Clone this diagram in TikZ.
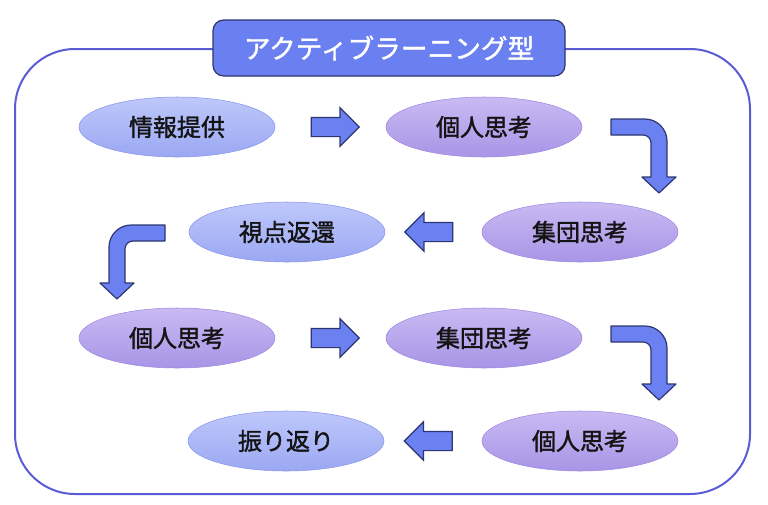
\documentclass[tikz,border=0pt]{standalone}
\usepackage{fontspec}
\newfontfamily\jpfont[FakeBold=1.5]{Noto Sans CJK JP}
\usetikzlibrary{shapes.geometric, shapes.arrows, positioning, calc}
\definecolor{framecol}{HTML}{5B5BD6}
\definecolor{arrowfill}{HTML}{6B81F2}
\definecolor{arrowline}{HTML}{2E3672}
\definecolor{titlefill}{HTML}{6A7FF0}
\definecolor{bluetop}{HTML}{BEC8FB}
\definecolor{bluebot}{HTML}{9BA8F2}
\definecolor{blueline}{HTML}{8895EC}
\definecolor{purptop}{HTML}{C9BAF3}
\definecolor{purpbot}{HTML}{A895E6}
\definecolor{purpline}{HTML}{9D88E2}
\tikzstyle{stage} = [ellipse, minimum width=147pt, minimum height=45pt, inner sep=0pt, text=black!92, font=\jpfont\fontsize{18pt}{18pt}\selectfont]
\tikzstyle{given} = [stage, draw=blueline, top color=bluetop, bottom color=bluebot]
\tikzstyle{think} = [stage, draw=purpline, top color=purptop, bottom color=purpbot]
\tikzstyle{flow} = [single arrow, draw=arrowline, fill=arrowfill, line width=0.9pt, minimum height=36pt, single arrow head extend=7.25pt, inner xsep=0pt, inner ysep=6.75pt]
\tikzstyle{turnbody} = [draw=arrowline, fill=arrowfill, line width=0.9pt, line join=round]
\tikzset{turnarrow/.pic={
  \draw[turnbody] (0,0) -- (34,0) .. controls (46,0) and (56,10) .. (56,22) -- (56,58) -- (65,58) -- (48,74) -- (31,58) -- (40,58) -- (40,24) .. controls (40,19.5) and (36.5,16) .. (32,16) -- (0,16) -- cycle;
}}

\begin{document}
\begin{tikzpicture}[x=0.75pt, y=-0.75pt]
\useasboundingbox (0,0) rectangle (768,504);

% outer frame and title
\draw [framecol, line width=1.5pt, rounded corners=45pt] (15,49) rectangle (750,494);
\node (title) [rectangle, rounded corners=8pt, draw=arrowline, line width=0.9pt, fill=titlefill, minimum width=264pt, minimum height=42pt, text=white, font=\jpfont\fontsize{20pt}{20pt}\selectfont] at (389,48) {アクティブラーニング型};

% stages
\node (info) [given] at (177,127) {情報提供};
\node (self1) [think] at (484,127) {個人思考};
\node (group1) [think] at (580,232) {集団思考};
\node (view) [given] at (287,232) {視点返還};
\node (self2) [think] at (177,338) {個人思考};
\node (group2) [think] at (484,338) {集団思考};
\node (self3) [think] at (580,441) {個人思考};
\node (review) [given] at (286,441) {振り返り};

% straight arrows
\node (go1) [flow] at ($(info)!0.5!(self1)$) {};
\node (go2) [flow, shape border rotate=180] at ($(view)!0.5!(group1)$) {};
\node (go3) [flow] at ($(self2)!0.5!(group2)$) {};
\node (go4) [flow, shape border rotate=180] at ($(review)!0.5!(self3)$) {};

% turning arrows
\coordinate (turn1) at (611,119);
\coordinate (turn2) at (165,225);
\coordinate (turn3) at (611,326);
\pic at (turn1) {turnarrow};
\pic [xscale=-1] at (turn2) {turnarrow};
\pic at (turn3) {turnarrow};

\end{tikzpicture}
\end{document}
